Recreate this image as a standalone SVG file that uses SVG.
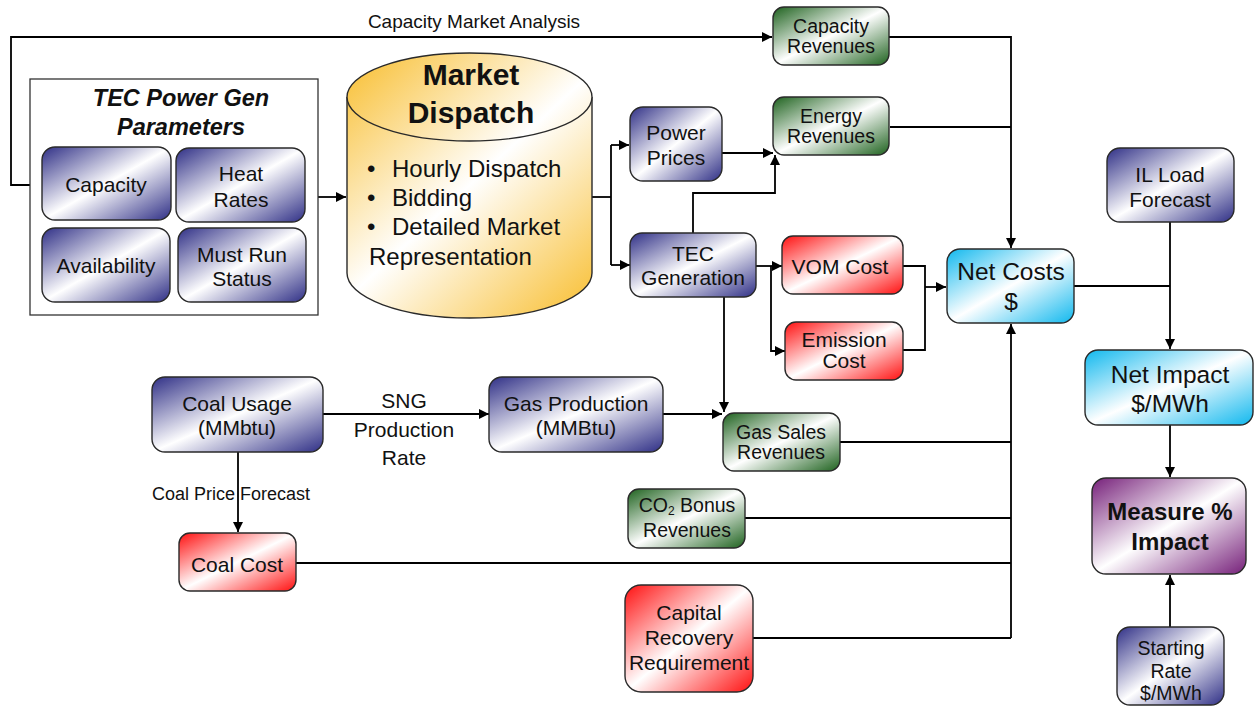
<svg xmlns="http://www.w3.org/2000/svg" width="1254" height="713" viewBox="0 0 1254 713">
  <style>
    .node { stroke: #2a2a2a; stroke-width: 1.4; }
    .t { font-family: "Liberation Sans", Arial, sans-serif; font-size: 21px; fill: #111; text-anchor: middle; }
    .sm { font-size: 19.5px; }
    .big { font-size: 24.5px; }
    .ttl { font-size: 23.5px; font-weight: bold; font-style: italic; }
    .hd { font-size: 30px; font-weight: bold; }
    .bold { font-size: 24px; font-weight: bold; }
    .lbl { font-family: "Liberation Sans", Arial, sans-serif; fill: #111; text-anchor: middle; }
    .wire { fill: none; stroke: #000; stroke-width: 1.8; }
  </style>
  <defs>
    <linearGradient id="gBlue" x1="0" y1="0" x2="1" y2="1">
      <stop offset="0" stop-color="#2f2f86"/>
      <stop offset="0.5" stop-color="#ffffff"/>
      <stop offset="1" stop-color="#2f2f86"/>
    </linearGradient>
    <linearGradient id="gGreen" x1="0" y1="0" x2="1" y2="1">
      <stop offset="0" stop-color="#1e621e"/>
      <stop offset="0.5" stop-color="#ffffff"/>
      <stop offset="1" stop-color="#1e621e"/>
    </linearGradient>
    <linearGradient id="gRed" x1="0" y1="0" x2="1" y2="1">
      <stop offset="0" stop-color="#ff1010"/>
      <stop offset="0.5" stop-color="#ffffff"/>
      <stop offset="1" stop-color="#ff1010"/>
    </linearGradient>
    <linearGradient id="gCyan" x1="0" y1="0" x2="1" y2="1">
      <stop offset="0" stop-color="#10b8ee"/>
      <stop offset="0.5" stop-color="#ffffff"/>
      <stop offset="1" stop-color="#10b8ee"/>
    </linearGradient>
    <linearGradient id="gPurple" x1="0" y1="0" x2="1" y2="1">
      <stop offset="0" stop-color="#76207a"/>
      <stop offset="0.5" stop-color="#ffffff"/>
      <stop offset="1" stop-color="#76207a"/>
    </linearGradient>
    <linearGradient id="gOrange" gradientUnits="userSpaceOnUse" x1="347" y1="53" x2="592" y2="318">
      <stop offset="0" stop-color="#f8bd2c"/>
      <stop offset="0.5" stop-color="#ffffff"/>
      <stop offset="1" stop-color="#f8bd2c"/>
    </linearGradient>
    <marker id="arrow" viewBox="0 0 10 10" refX="10" refY="5" markerWidth="11" markerHeight="10" markerUnits="userSpaceOnUse" orient="auto">
      <path d="M0,0 L10,5 L0,10 Z" fill="#000"/>
    </marker>
  </defs>

  <rect width="1254" height="713" fill="#ffffff"/>

  <!-- connectors -->
  <g id="connectors">
    <path class="wire" d="M42,185 H11 V37 H772" marker-end="url(#arrow)"/>
    <path class="wire" d="M318,197 H346" marker-end="url(#arrow)"/>
    <path class="wire" d="M592,197 H611"/>
    <path class="wire" d="M611,145 V265"/>
    <path class="wire" d="M611,145 H629" marker-end="url(#arrow)"/>
    <path class="wire" d="M611,265 H630" marker-end="url(#arrow)"/>
    <path class="wire" d="M722,153 H773" marker-end="url(#arrow)"/>
    <path class="wire" d="M693,233 V193 H775 V155" marker-end="url(#arrow)"/>
    <path class="wire" d="M756,266 H782" marker-end="url(#arrow)"/>
    <path class="wire" d="M771,266 V351 H785" marker-end="url(#arrow)"/>
    <path class="wire" d="M903,266 H925 V350 H903"/>
    <path class="wire" d="M925,287 H946" marker-end="url(#arrow)"/>
    <path class="wire" d="M889,37 H1011 V248" marker-end="url(#arrow)"/>
    <path class="wire" d="M890,127 H1011"/>
    <path class="wire" d="M1074,286 H1170"/>
    <path class="wire" d="M1170,222 V349" marker-end="url(#arrow)"/>
    <path class="wire" d="M1170,425 V477" marker-end="url(#arrow)"/>
    <path class="wire" d="M1170,627 V575" marker-end="url(#arrow)"/>
    <path class="wire" d="M1011,638 V324" marker-end="url(#arrow)"/>
    <path class="wire" d="M840,442 H1011"/>
    <path class="wire" d="M745,518 H1011"/>
    <path class="wire" d="M296,563 H1011"/>
    <path class="wire" d="M753,638 H1011"/>
    <path class="wire" d="M323,414 H489" marker-end="url(#arrow)"/>
    <path class="wire" d="M238,452 V532" marker-end="url(#arrow)"/>
    <path class="wire" d="M663,414 H722" marker-end="url(#arrow)"/>
    <path class="wire" d="M724,297 V412" marker-end="url(#arrow)"/>
    <text class="lbl" x="474" y="28" font-size="19">Capacity Market Analysis</text>
    <text class="lbl" x="404" y="408" font-size="21">SNG</text>
    <text class="lbl" x="404" y="437" font-size="21">Production</text>
    <text class="lbl" x="404" y="465" font-size="21">Rate</text>
    <text class="lbl" x="231" y="500" font-size="18">Coal Price Forecast</text>
  </g>

  <!-- parameter group -->
  <g id="params">
    <rect x="30" y="79" width="288" height="236" fill="#fff" stroke="#333" stroke-width="1.3"/>
    <text class="t ttl" x="181" y="106">TEC Power Gen</text>
    <text class="t ttl" x="181" y="135">Parameters</text>
  </g>
  <g id="capacity">
    <rect class="node" x="42" y="147" width="129" height="73" rx="13" fill="url(#gBlue)"/>
    <text class="t" x="106" y="192">Capacity</text>
  </g>
  <g id="heat-rates">
    <rect class="node" x="176" y="148" width="129" height="74" rx="13" fill="url(#gBlue)"/>
    <text class="t" x="241" y="181">Heat</text>
    <text class="t" x="241" y="207">Rates</text>
  </g>
  <g id="availability">
    <rect class="node" x="42" y="228" width="128" height="74" rx="13" fill="url(#gBlue)"/>
    <text class="t" x="106" y="273">Availability</text>
  </g>
  <g id="must-run">
    <rect class="node" x="178" y="228" width="128" height="74" rx="13" fill="url(#gBlue)"/>
    <text class="t" x="242" y="262">Must Run</text>
    <text class="t" x="242" y="286">Status</text>
  </g>

  <!-- dispatch cylinder -->
  <g id="market-dispatch">
    <path d="M347,97 V273 A122.5,45 0 0 0 592,273 V97" fill="url(#gOrange)" stroke="#2a2a2a" stroke-width="1.4"/>
    <ellipse cx="469.5" cy="97" rx="122.5" ry="44" fill="url(#gOrange)" stroke="#2a2a2a" stroke-width="1.4"/>
    <text class="t hd" x="471" y="85">Market</text>
    <text class="t hd" x="471" y="123">Dispatch</text>
    <g font-family="Liberation Sans, Arial, sans-serif" font-size="24" fill="#111">
      <text x="367" y="177">•</text><text x="392" y="177">Hourly Dispatch</text>
      <text x="367" y="206">•</text><text x="392" y="206">Bidding</text>
      <text x="367" y="235">•</text><text x="392" y="235">Detailed Market</text>
      <text x="369" y="265">Representation</text>
    </g>
  </g>

  <g id="capacity-revenues">
    <rect class="node" x="773" y="7" width="116" height="58" rx="11" fill="url(#gGreen)"/>
    <text class="t sm" x="831" y="33">Capacity</text>
    <text class="t sm" x="831" y="53">Revenues</text>
  </g>
  <g id="power-prices">
    <rect class="node" x="630" y="107" width="92" height="74" rx="13" fill="url(#gBlue)"/>
    <text class="t" x="676" y="140">Power</text>
    <text class="t" x="676" y="165">Prices</text>
  </g>
  <g id="energy-revenues">
    <rect class="node" x="773" y="97" width="116" height="58" rx="11" fill="url(#gGreen)"/>
    <text class="t sm" x="831" y="123">Energy</text>
    <text class="t sm" x="831" y="143">Revenues</text>
  </g>
  <g id="tec-generation">
    <rect class="node" x="630" y="233" width="126" height="64" rx="12" fill="url(#gBlue)"/>
    <text class="t" x="693" y="261">TEC</text>
    <text class="t" x="693" y="285">Generation</text>
  </g>
  <g id="vom-cost">
    <rect class="node" x="782" y="236" width="121" height="58" rx="11" fill="url(#gRed)"/>
    <text class="t" x="840" y="274">VOM Cost</text>
  </g>
  <g id="emission-cost">
    <rect class="node" x="785" y="322" width="118" height="58" rx="11" fill="url(#gRed)"/>
    <text class="t" x="844" y="347">Emission</text>
    <text class="t" x="844" y="368">Cost</text>
  </g>
  <g id="net-costs">
    <rect class="node" x="947" y="249" width="127" height="74" rx="13" fill="url(#gCyan)"/>
    <text class="t big" x="1011" y="280">Net Costs</text>
    <text class="t big" x="1011" y="310">$</text>
  </g>
  <g id="il-load">
    <rect class="node" x="1107" y="148" width="127" height="74" rx="13" fill="url(#gBlue)"/>
    <text class="t" x="1170" y="182">IL Load</text>
    <text class="t" x="1170" y="207">Forecast</text>
  </g>
  <g id="net-impact">
    <rect class="node" x="1085" y="350" width="168" height="75" rx="13" fill="url(#gCyan)"/>
    <text class="t big" x="1170" y="383">Net Impact</text>
    <text class="t big" x="1170" y="412">$/MWh</text>
  </g>
  <g id="measure-impact">
    <rect class="node" x="1092" y="478" width="154" height="96" rx="14" fill="url(#gPurple)"/>
    <text class="t bold" x="1170" y="520">Measure %</text>
    <text class="t bold" x="1170" y="550">Impact</text>
  </g>
  <g id="starting-rate">
    <rect class="node" x="1117" y="627" width="107" height="78" rx="13" fill="url(#gBlue)"/>
    <text class="t sm" x="1171" y="655">Starting</text>
    <text class="t sm" x="1171" y="678">Rate</text>
    <text class="t sm" x="1171" y="700">$/MWh</text>
  </g>
  <g id="coal-usage">
    <rect class="node" x="152" y="377" width="171" height="75" rx="13" fill="url(#gBlue)"/>
    <text class="t" x="237" y="411">Coal Usage</text>
    <text class="t" x="237" y="435">(MMbtu)</text>
  </g>
  <g id="gas-production">
    <rect class="node" x="489" y="377" width="174" height="75" rx="13" fill="url(#gBlue)"/>
    <text class="t" x="576" y="411">Gas Production</text>
    <text class="t" x="576" y="435">(MMBtu)</text>
  </g>
  <g id="gas-sales">
    <rect class="node" x="723" y="413" width="117" height="58" rx="11" fill="url(#gGreen)"/>
    <text class="t sm" x="781" y="439">Gas Sales</text>
    <text class="t sm" x="781" y="459">Revenues</text>
  </g>
  <g id="co2-bonus">
    <rect class="node" x="628" y="489" width="117" height="59" rx="11" fill="url(#gGreen)"/>
    <text class="t sm" x="687" y="512">CO<tspan style="font-size:12px" dy="3">2</tspan><tspan dy="-3"> Bonus</tspan></text>
    <text class="t sm" x="687" y="537">Revenues</text>
  </g>
  <g id="coal-cost">
    <rect class="node" x="179" y="533" width="117" height="58" rx="11" fill="url(#gRed)"/>
    <text class="t" x="237" y="572">Coal Cost</text>
  </g>
  <g id="capital-recovery">
    <rect class="node" x="625" y="585" width="128" height="107" rx="16" fill="url(#gRed)"/>
    <text class="t" x="689" y="620">Capital</text>
    <text class="t" x="689" y="645">Recovery</text>
    <text class="t" x="689" y="670">Requirement</text>
  </g>
</svg>
